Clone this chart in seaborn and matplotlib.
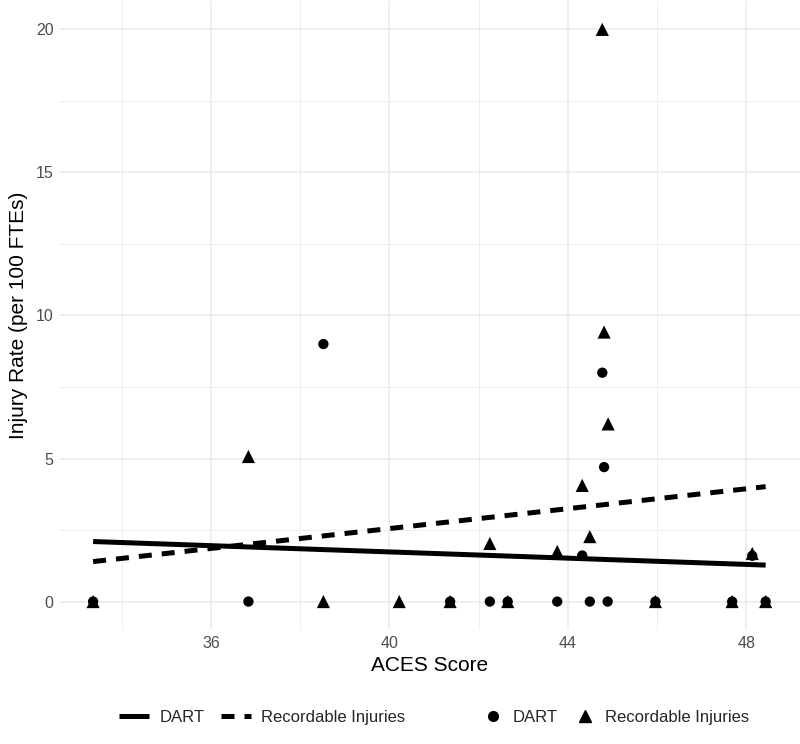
import numpy as np
import pandas as pd
import matplotlib
matplotlib.use("Agg")
import matplotlib.pyplot as plt
from matplotlib.lines import Line2D
import seaborn as sns

# ---- data ----
dart_x = [33.36, 36.84, 38.52, 41.36, 42.25, 42.65, 43.76, 44.32, 44.49,
          44.77, 44.81, 44.89, 45.96, 47.68, 48.13, 48.43]
dart_y = [0.0, 0.0, 9.0, 0.0, 0.0, 0.0, 0.0, 1.61, 0.0,
          8.0, 4.70, 0.0, 0.0, 0.0, 1.60, 0.0]
rec_x = [33.36, 36.84, 38.52, 40.22, 41.36, 42.25, 42.65, 43.76, 44.32, 44.49,
         44.77, 44.81, 44.90, 45.96, 47.68, 48.13, 48.43]
rec_y = [0.0, 5.07, 0.0, 0.0, 0.0, 2.03, 0.0, 1.75, 4.06, 2.27,
         20.0, 9.42, 6.21, 0.0, 0.0, 1.68, 0.0]
series_names = ["DART", "Recordable Injuries"]
x_ticks = [36, 40, 44, 48]
y_ticks = [0, 5, 10, 15, 20]

dart_df = pd.DataFrame({"x": dart_x, "y": dart_y, "type": series_names[0]})
rec_df = pd.DataFrame({"x": rec_x, "y": rec_y, "type": series_names[1]})

sns.set_theme(style="whitegrid")
plt.rcParams["font.family"] = ["Liberation Sans", "DejaVu Sans"]

fig = plt.figure(figsize=(8, 7.44), dpi=100)
ax = fig.add_axes([0.074, 0.153, 0.926, 0.846])

lw = 3.6
dash = (2.6, 2.0)
sns.regplot(data=dart_df, x="x", y="y", ci=None, scatter=False,
            ax=ax, line_kws=dict(color="black", lw=lw, solid_capstyle="butt"))
sns.regplot(data=rec_df, x="x", y="y", ci=None, scatter=False, ax=ax,
            line_kws=dict(color="black", lw=lw, dashes=dash,
                          dash_capstyle="butt"))

sns.scatterplot(data=dart_df, x="x", y="y", marker="o", color="black",
                s=55, edgecolor="none", ax=ax, legend=False, zorder=3)
sns.scatterplot(data=rec_df, x="x", y="y", marker="^", color="black",
                s=90, edgecolor="none", ax=ax, legend=False, zorder=4)

ax.set_xlim(32.6, 49.2)
ax.set_ylim(-1, 21)
ax.set_xticks(x_ticks)
ax.set_yticks(y_ticks)
ax.set_xticks([34, 38, 42, 46], minor=True)
ax.set_yticks([2.5, 7.5, 12.5, 17.5], minor=True)
ax.grid(True, which="major", color="#EBEBEB", lw=1.1)
ax.grid(True, which="minor", color="#EBEBEB", lw=0.6)
for s in ax.spines.values():
    s.set_visible(False)
ax.tick_params(axis="both", which="both", length=0, labelsize=11.5,
               labelcolor="#4D4D4D", pad=4)
ax.set_xlabel("ACES Score", fontsize=15, color="black", labelpad=4)
ax.set_ylabel("Injury Rate (per 100 FTEs)", fontsize=15, color="black",
              labelpad=6)

# legends
lh = [Line2D([0], [0], color="black", lw=lw, solid_capstyle="butt"),
      Line2D([0], [0], color="black", lw=lw, dashes=dash,
             dash_capstyle="butt")]
ph = [Line2D([0], [0], color="black", marker="o", ls="none", markersize=7),
      Line2D([0], [0], color="black", marker="^", ls="none", markersize=8)]
leg1 = fig.legend(lh, series_names, loc="center right",
                  bbox_to_anchor=(0.525, 0.036), ncol=2, frameon=False,
                  fontsize=12, handlelength=1.8, handletextpad=0.6,
                  columnspacing=1.0)
leg2 = fig.legend(ph, series_names, loc="center left",
                  bbox_to_anchor=(0.585, 0.036), ncol=2, frameon=False,
                  fontsize=12, handlelength=1.2, handletextpad=0.6,
                  columnspacing=1.0)

fig.savefig("out.png", dpi=100)
